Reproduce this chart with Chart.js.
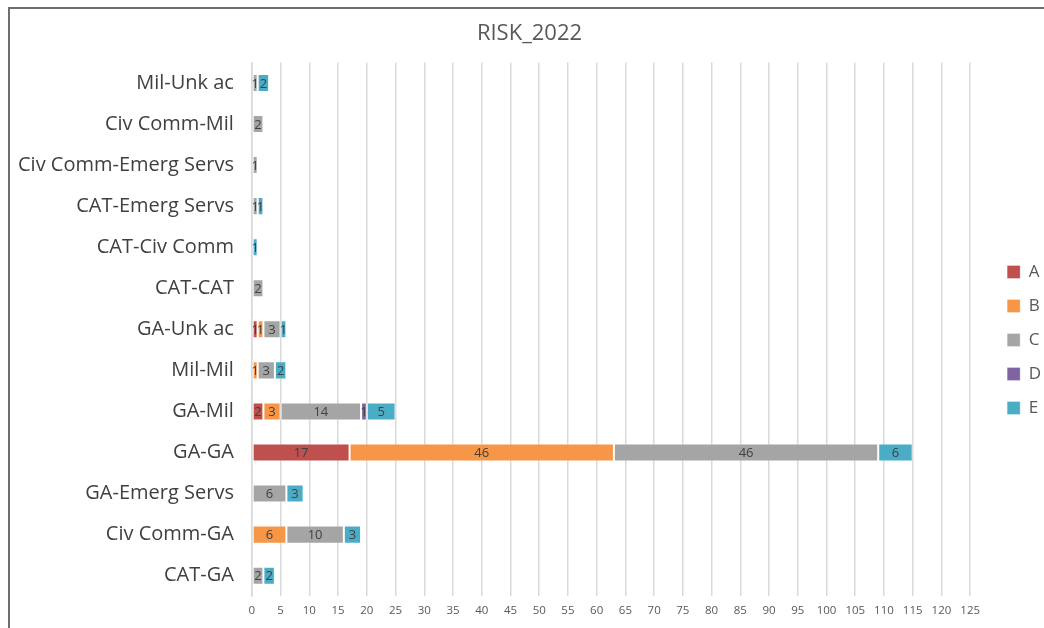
<!DOCTYPE html>
<html>
<head>
<meta charset="utf-8">
<script src="https://cdn.jsdelivr.net/npm/chart.js@4/dist/chart.umd.min.js"></script>
<style>
  html, body { margin: 0; padding: 0; background: #fff; overflow: hidden; }
  #wrap { position: relative; width: 1044px; height: 628px; }
  #frame { position: absolute; left: 8px; top: 7px; width: 1100px; height: 700px;
           border-left: 2px solid #6e6e6e; border-top: 2px solid #6e6e6e; pointer-events: none; }
</style>
</head>
<body>
<div id="wrap">
  <canvas id="riskChart" width="1044" height="628"></canvas>
  <div id="frame"></div>
</div>
<script>
const categories = [
    'Mil-Unk ac', 'Civ Comm-Mil', 'Civ Comm-Emerg Servs', 'CAT-Emerg Servs',
    'CAT-Civ Comm', 'CAT-CAT', 'GA-Unk ac', 'Mil-Mil', 'GA-Mil', 'GA-GA',
    'GA-Emerg Servs', 'Civ Comm-GA', 'CAT-GA'
];
const seriesA = [null, null, null, null, null, null, 1, null, 2, 17, null, null, null];
const seriesB = [null, null, null, null, null, null, 1, 1, 3, 46, null, 6, null];
const seriesC = [1, 2, 1, 1, null, 2, 3, 3, 14, 46, 6, 10, 2];
const seriesD = [null, null, null, null, null, null, null, null, 1, null, null, null, null];
const seriesE = [2, null, null, 1, 1, null, 1, 2, 5, 6, 3, 3, 2];

const labelFont = "'Open Sans', 'DejaVu Sans', sans-serif";

// writes each segment's value in the middle of its bar
const segmentLabels = {
    id: 'segmentLabels',
    afterDatasetsDraw(chart) {
        const ctx = chart.ctx;
        ctx.save();
        ctx.font = `13px ${labelFont}`;
        ctx.fillStyle = '#404040';
        ctx.textAlign = 'center';
        ctx.textBaseline = 'middle';
        chart.data.datasets.forEach((ds, i) => {
            const meta = chart.getDatasetMeta(i);
            meta.data.forEach((bar, j) => {
                const v = ds.data[j];
                if (!v) return;
                ctx.fillText(String(v), (bar.x + bar.base) / 2, bar.y + 1);
            });
        });
        ctx.restore();
    }
};

// small nudges to the legend and title boxes after layout
const boxNudge = {
    id: 'boxNudge',
    afterLayout(chart) {
        const lg = chart.legend;
        if (lg) {
            lg.left += 20; lg.right += 20;
            lg.top += 22; lg.bottom += 22;
        }
        const tt = chart.titleBlock;
        if (tt) { tt.left += 14; tt.right += 14; }
    }
};

const seg = (label, data, color) => ({
    label,
    data,
    backgroundColor: color,
    borderColor: 'rgba(255,255,255,0.3)',
    borderWidth: 1,
    borderSkipped: false,
    barPercentage: 0.44,
    categoryPercentage: 1
});

new Chart(document.getElementById('riskChart'), {
    type: 'bar',
    data: {
        labels: categories,
        datasets: [
            seg('A', seriesA, '#C0504D'),
            seg('B', seriesB, '#F79646'),
            seg('C', seriesC, '#A5A5A5'),
            seg('D', seriesD, '#8064A2'),
            seg('E', seriesE, '#4BACC6')
        ]
    },
    options: {
        indexAxis: 'y',
        responsive: false,
        animation: false,
        layout: { padding: { top: 10, left: 0, right: 13, bottom: 2 } },
        plugins: {
            title: {
                display: true,
                text: 'RISK_2022',
                color: '#595959',
                font: { family: labelFont, size: 22, weight: 'normal' },
                padding: { top: 11, bottom: 15 }
            },
            legend: {
                position: 'right',
                labels: {
                    color: '#595959',
                    font: { family: labelFont, size: 17 },
                    boxWidth: 13,
                    boxHeight: 13,
                    padding: 17
                }
            },
            tooltip: { enabled: false }
        },
        scales: {
            x: {
                stacked: true,
                min: 0,
                max: 125,
                ticks: {
                    stepSize: 5,
                    color: '#595959',
                    font: { family: labelFont, size: 11.5 },
                    padding: 8,
                    maxRotation: 0,
                    autoSkip: false
                },
                grid: { color: '#d9d9d9', lineWidth: 1.5, drawTicks: false },
                border: { display: false }
            },
            y: {
                stacked: true,
                ticks: {
                    color: '#404040',
                    font: { family: labelFont, size: 20 },
                    padding: 18,
                    autoSkip: false
                },
                grid: { display: false, drawTicks: false },
                border: { display: true, color: '#d9d9d9', width: 1.5 }
            }
        }
    },
    plugins: [segmentLabels, boxNudge]
});
</script>
</body>
</html>
